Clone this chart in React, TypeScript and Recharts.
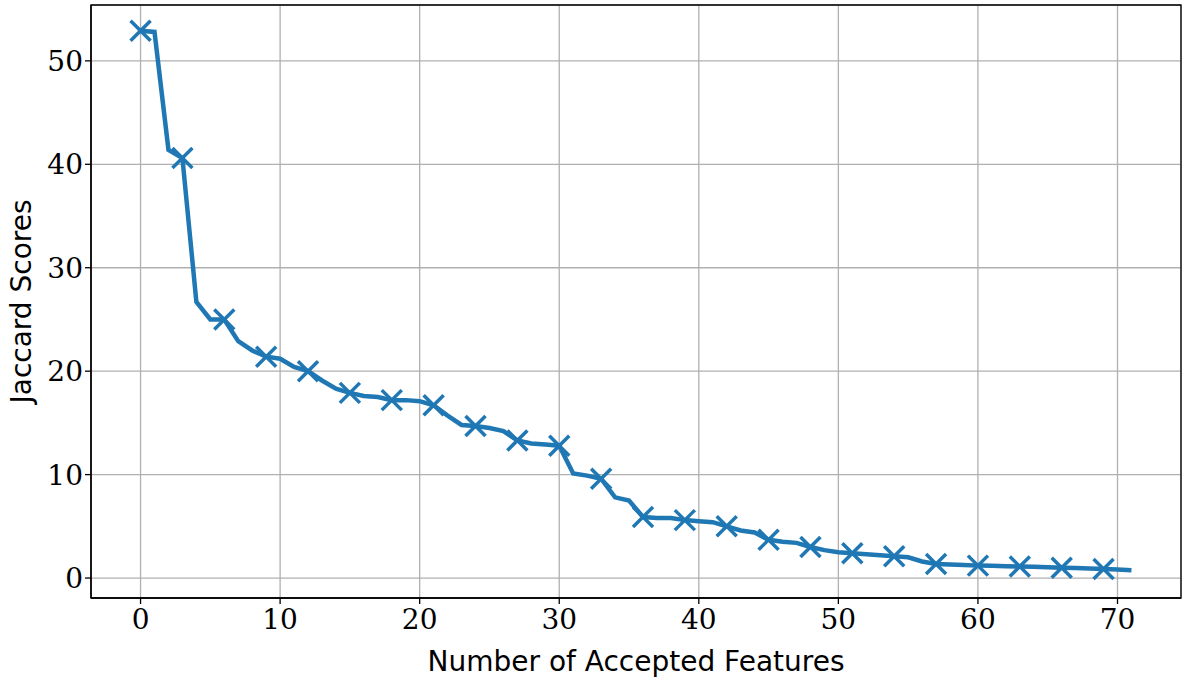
import { LineChart, Line, XAxis, YAxis, CartesianGrid, ReferenceArea, Label } from 'recharts';

// Jaccard score after each accepted feature (index = number of accepted features)
const jaccardScores: number[] = [
  52.9, 52.8, 41.4, 40.6, 26.7, 25.0, 25.0, 22.9, 22.0, 21.4,
  21.2, 20.4, 20.0, 19.1, 18.3, 17.9, 17.6, 17.5, 17.2, 17.2,
  17.1, 16.7, 15.7, 14.8, 14.7, 14.5, 14.2, 13.3, 13.0, 12.9,
  12.8, 10.1, 9.9, 9.6, 7.8, 7.5, 5.9, 5.8, 5.8, 5.6,
  5.5, 5.4, 5.0, 4.6, 4.4, 3.7, 3.5, 3.4, 3.0, 2.7,
  2.5, 2.4, 2.3, 2.2, 2.1, 2.0, 1.6, 1.35, 1.3, 1.25,
  1.2, 1.18, 1.15, 1.12, 1.1, 1.05, 1.0, 0.97, 0.93, 0.88,
  0.82, 0.76,
]

const xTicks = [0, 10, 20, 30, 40, 50, 60, 70]
const yTicks = [0, 10, 20, 30, 40, 50]

const data = jaccardScores.map((score, i) => ({ features: i, score }))

const blue = '#1f77b4'
const serif = '"DejaVu Serif", "Liberation Serif", serif'
const sans = '"DejaVu Sans", sans-serif'

// matplotlib-ish 'x' marker every third point
const CrossDot = (props: any) => {
  const { cx, cy, index } = props
  if (index % 3 !== 0 || cx == null || cy == null) return <g key={index} />
  const r = 10
  return (
    <g key={index} stroke={blue} strokeWidth={3.5}>
      <line x1={cx - r} y1={cy - r} x2={cx + r} y2={cy + r} />
      <line x1={cx - r} y1={cy + r} x2={cx + r} y2={cy - r} />
    </g>
  )
}

const App = () => {
  return (
    <div style={{ position: 'absolute', left: 0, top: 0 }}>
      <LineChart
        width={1182}
        height={681}
        data={data}
        margin={{ top: 5, right: 1, left: 0, bottom: 0 }}
      >
        <CartesianGrid stroke="#b0b0b0" strokeWidth={1.3} />
        <XAxis
          dataKey="features"
          type="number"
          domain={[-3.55, 74.55]}
          ticks={xTicks}
          allowDataOverflow
          height={83}
          tickLine={{ stroke: '#000', strokeWidth: 1.3 }}
          tickSize={6}
          axisLine={{ stroke: '#000', strokeWidth: 1.3 }}
          tick={{ fontSize: 28, fill: '#000', fontFamily: serif, fontWeight: 300 }}
          dy={3}
        >
          <Label
            value="Number of Accepted Features"
            position="insideBottom"
            offset={10}
            style={{ fontSize: 28, fill: '#000', fontFamily: sans }}
          />
        </XAxis>
        <YAxis
          type="number"
          domain={[-1.93, 55.4]}
          ticks={yTicks}
          allowDataOverflow
          width={91}
          tickLine={{ stroke: '#000', strokeWidth: 1.3 }}
          tickSize={6}
          axisLine={{ stroke: '#000', strokeWidth: 1.3 }}
          tick={{ fontSize: 28, fill: '#000', fontFamily: serif, fontWeight: 300 }}
        >
          <Label
            value="Jaccard Scores"
            angle={-90}
            position="insideLeft"
            offset={21}
            style={{ fontSize: 28, fill: '#000', fontFamily: sans, textAnchor: 'middle' }}
          />
        </YAxis>
        <ReferenceArea
          x1={-3.55}
          x2={74.55}
          y1={-1.93}
          y2={55.4}
          fill="none"
          stroke="#000"
          strokeWidth={1.3}
          ifOverflow="visible"
        />
        <Line
          type="linear"
          dataKey="score"
          stroke={blue}
          strokeWidth={4.5}
          strokeLinejoin="miter"
          dot={CrossDot}
          activeDot={false}
          isAnimationActive={false}
        />
      </LineChart>
    </div>
  )
}

export default App
